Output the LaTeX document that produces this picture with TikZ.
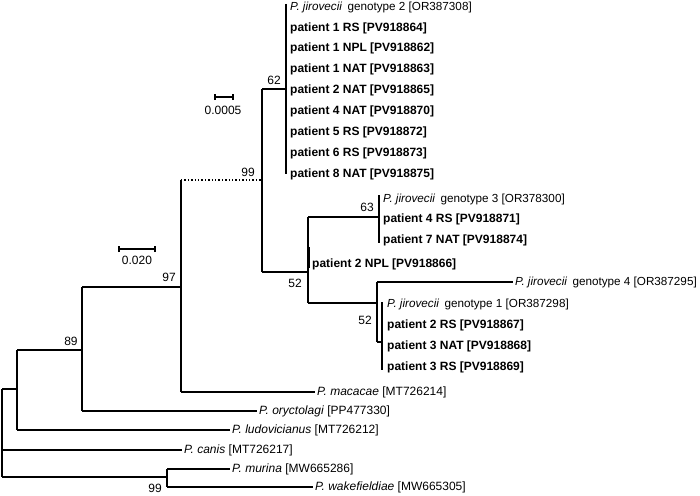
\documentclass[tikz,border=0pt]{standalone}
\usepackage{fontspec}
\setmainfont{Liberation Sans}
\newcommand{\pjg}[1]{\textit{P. jirovecii}\hspace{0.45em}genotype #1}
\begin{document}
\begin{tikzpicture}[x=1pt,y=-1pt,
  br/.style={line width=1.4pt},
  leaf/.style={anchor=west,inner xsep=2pt,inner ysep=0pt,text height=8.6pt,text depth=2.5pt,font=\fontsize{12}{14}\selectfont},
  gleaf/.style={leaf,font=\fontsize{11.7}{14}\selectfont},
  boot/.style={inner sep=0pt,font=\fontsize{12}{14}\selectfont},
  scl/.style={inner sep=0pt,font=\fontsize{12}{14}\selectfont}]
\useasboundingbox (0,0) rectangle (700,495);
% internal nodes
\coordinate (R) at (2,433);
\coordinate (A) at (17,389);
\coordinate (N89) at (82,350);
\coordinate (N97) at (181,287);
\coordinate (N99) at (262,180);
\coordinate (N62) at (286,89);
\coordinate (N52a) at (308,272);
\coordinate (N63) at (379,217);
\coordinate (N52b) at (377,303);
\coordinate (Ng1) at (382,342);
\coordinate (N99b) at (167,477);
\coordinate (T62) at (286,4);
\coordinate (B62) at (286,174);
\coordinate (T63) at (379,195);
\coordinate (B63) at (379,243);
\coordinate (Tg1) at (382,302);
\coordinate (Bg1) at (382,370);
\coordinate (NPLa) at (308,247);
\coordinate (NPLb) at (308,268);
% top cluster leaves
\node[gleaf] (g2) at (288,7) {\pjg{2} [OR387308]};
\node[leaf] (p1rs) at (288,28) {\textbf{patient 1 RS [PV918864]}};
\node[leaf] (p1npl) at (288,48) {\textbf{patient 1 NPL [PV918862]}};
\node[leaf] (p1nat) at (288,69) {\textbf{patient 1 NAT [PV918863]}};
\node[leaf] (p2nat) at (288,90) {\textbf{patient 2 NAT [PV918865]}};
\node[leaf] (p4nat) at (288,111) {\textbf{patient 4 NAT [PV918870]}};
\node[leaf] (p5rs) at (288,132) {\textbf{patient 5 RS [PV918872]}};
\node[leaf] (p6rs) at (288,153) {\textbf{patient 6 RS [PV918873]}};
\node[leaf] (p8nat) at (288,174) {\textbf{patient 8 NAT [PV918875]}};
% genotype 3 cluster
\node[gleaf] (g3) at (381,199) {\pjg{3} [OR378300]};
\node[leaf] (p4rs) at (381,219) {\textbf{patient 4 RS [PV918871]}};
\node[leaf] (p7nat) at (381,240) {\textbf{patient 7 NAT [PV918874]}};
\node[leaf] (p2npl) at (310,264) {\textbf{patient 2 NPL [PV918866]}};
\node[gleaf] (g4) at (513,282) {\pjg{4} [OR387295]};
\node[gleaf] (g1) at (385,304) {\pjg{1} [OR387298]};
\node[leaf] (p2rs) at (385,325) {\textbf{patient 2 RS [PV918867]}};
\node[leaf] (p3nat) at (385,346) {\textbf{patient 3 NAT [PV918868]}};
\node[leaf] (p3rs) at (385,367) {\textbf{patient 3 RS [PV918869]}};
% outgroups
\node[leaf] (mac) at (315,392) {\textit{P. macacae} [MT726214]};
\node[leaf] (ory) at (257,411) {\textit{P. oryctolagi} [PP477330]};
\node[leaf] (lud) at (230,430) {\textit{P. ludovicianus} [MT726212]};
\node[leaf] (can) at (182,450) {\textit{P. canis} [MT726217]};
\node[leaf] (mur) at (230,469) {\textit{P. murina} [MW665286]};
\node[leaf] (wak) at (313,487) {\textit{P. wakefieldiae} [MW665305]};
% branches
\draw[line width=2.6pt] (R |- A) -- (R |- N99b);
\draw[br] (R |- A) -- (A);
\draw[br] (A |- N89) -- (A |- lud.west);
\draw[br] (A |- N89) -- (N89);
\draw[br] (A |- lud.west) -- (lud.west);
\draw[br] (R |- can.west) -- (can.west);
\draw[br] (R |- N99b) -- (N99b);
\draw[br] (N99b |- mur.west) -- (N99b |- wak.west);
\draw[br] (N99b |- mur.west) -- (mur.west);
\draw[br] (N99b |- wak.west) -- (wak.west);
\draw[br] (N89 |- N97) -- (N89 |- ory.west);
\draw[br] (N89 |- N97) -- (N97);
\draw[br] (N89 |- ory.west) -- (ory.west);
\draw[br] (N97 |- N99) -- (N97 |- mac.west);
\draw[br] (N97 |- mac.west) -- (mac.west);
\draw[line width=1.4pt,dotted] (N97 |- N99) -- (N99);
\draw[br] (N99 |- N62) -- (N99 |- N52a);
\draw[br] (N99 |- N62) -- (N62);
\draw[br] (N99 |- N52a) -- (N52a);
\draw[br] (T62) -- (B62);
\draw[br] (N52a |- N63) -- (N52a |- N52b);
\draw[line width=3pt] (NPLa) -- (NPLb);
\draw[br] (N52a |- N63) -- (N63);
\draw[br] (T63) -- (B63);
\draw[br] (N52a |- N52b) -- (N52b);
\draw[br] (N52b |- g4.west) -- (N52b |- Ng1);
\draw[br] (N52b |- g4.west) -- (g4.west);
\draw[br] (N52b |- Ng1) -- (Ng1);
\draw[br] (Tg1) -- (Bg1);
% bootstrap values
\node[boot] (b62) at (274,80) {62};
\node[boot] (b99) at (248,172) {99};
\node[boot] (b97) at (169,277) {97};
\node[boot] (b89) at (71,341) {89};
\node[boot] (b63) at (367,207) {63};
\node[boot] (b52a) at (295,283) {52};
\node[boot] (b52b) at (365,320) {52};
\node[boot] (b99b) at (155,488) {99};
% scale bars
\coordinate (s1a) at (215,97);
\coordinate (s1b) at (233,97);
\draw[line width=1.2pt] (s1a) -- (s1b);
\draw[line width=1.2pt] ([yshift=-3pt]s1a) -- ([yshift=3pt]s1a);
\draw[line width=1.2pt] ([yshift=-3pt]s1b) -- ([yshift=3pt]s1b);
\node[scl] (sl1) at (223,110) {0.0005};
\coordinate (s2a) at (119,249);
\coordinate (s2b) at (155,249);
\draw[line width=1.2pt] (s2a) -- (s2b);
\draw[line width=1.2pt] ([yshift=-3pt]s2a) -- ([yshift=3pt]s2a);
\draw[line width=1.2pt] ([yshift=-3pt]s2b) -- ([yshift=3pt]s2b);
\node[scl] (sl2) at (137,260) {0.020};
\end{tikzpicture}
\end{document}
